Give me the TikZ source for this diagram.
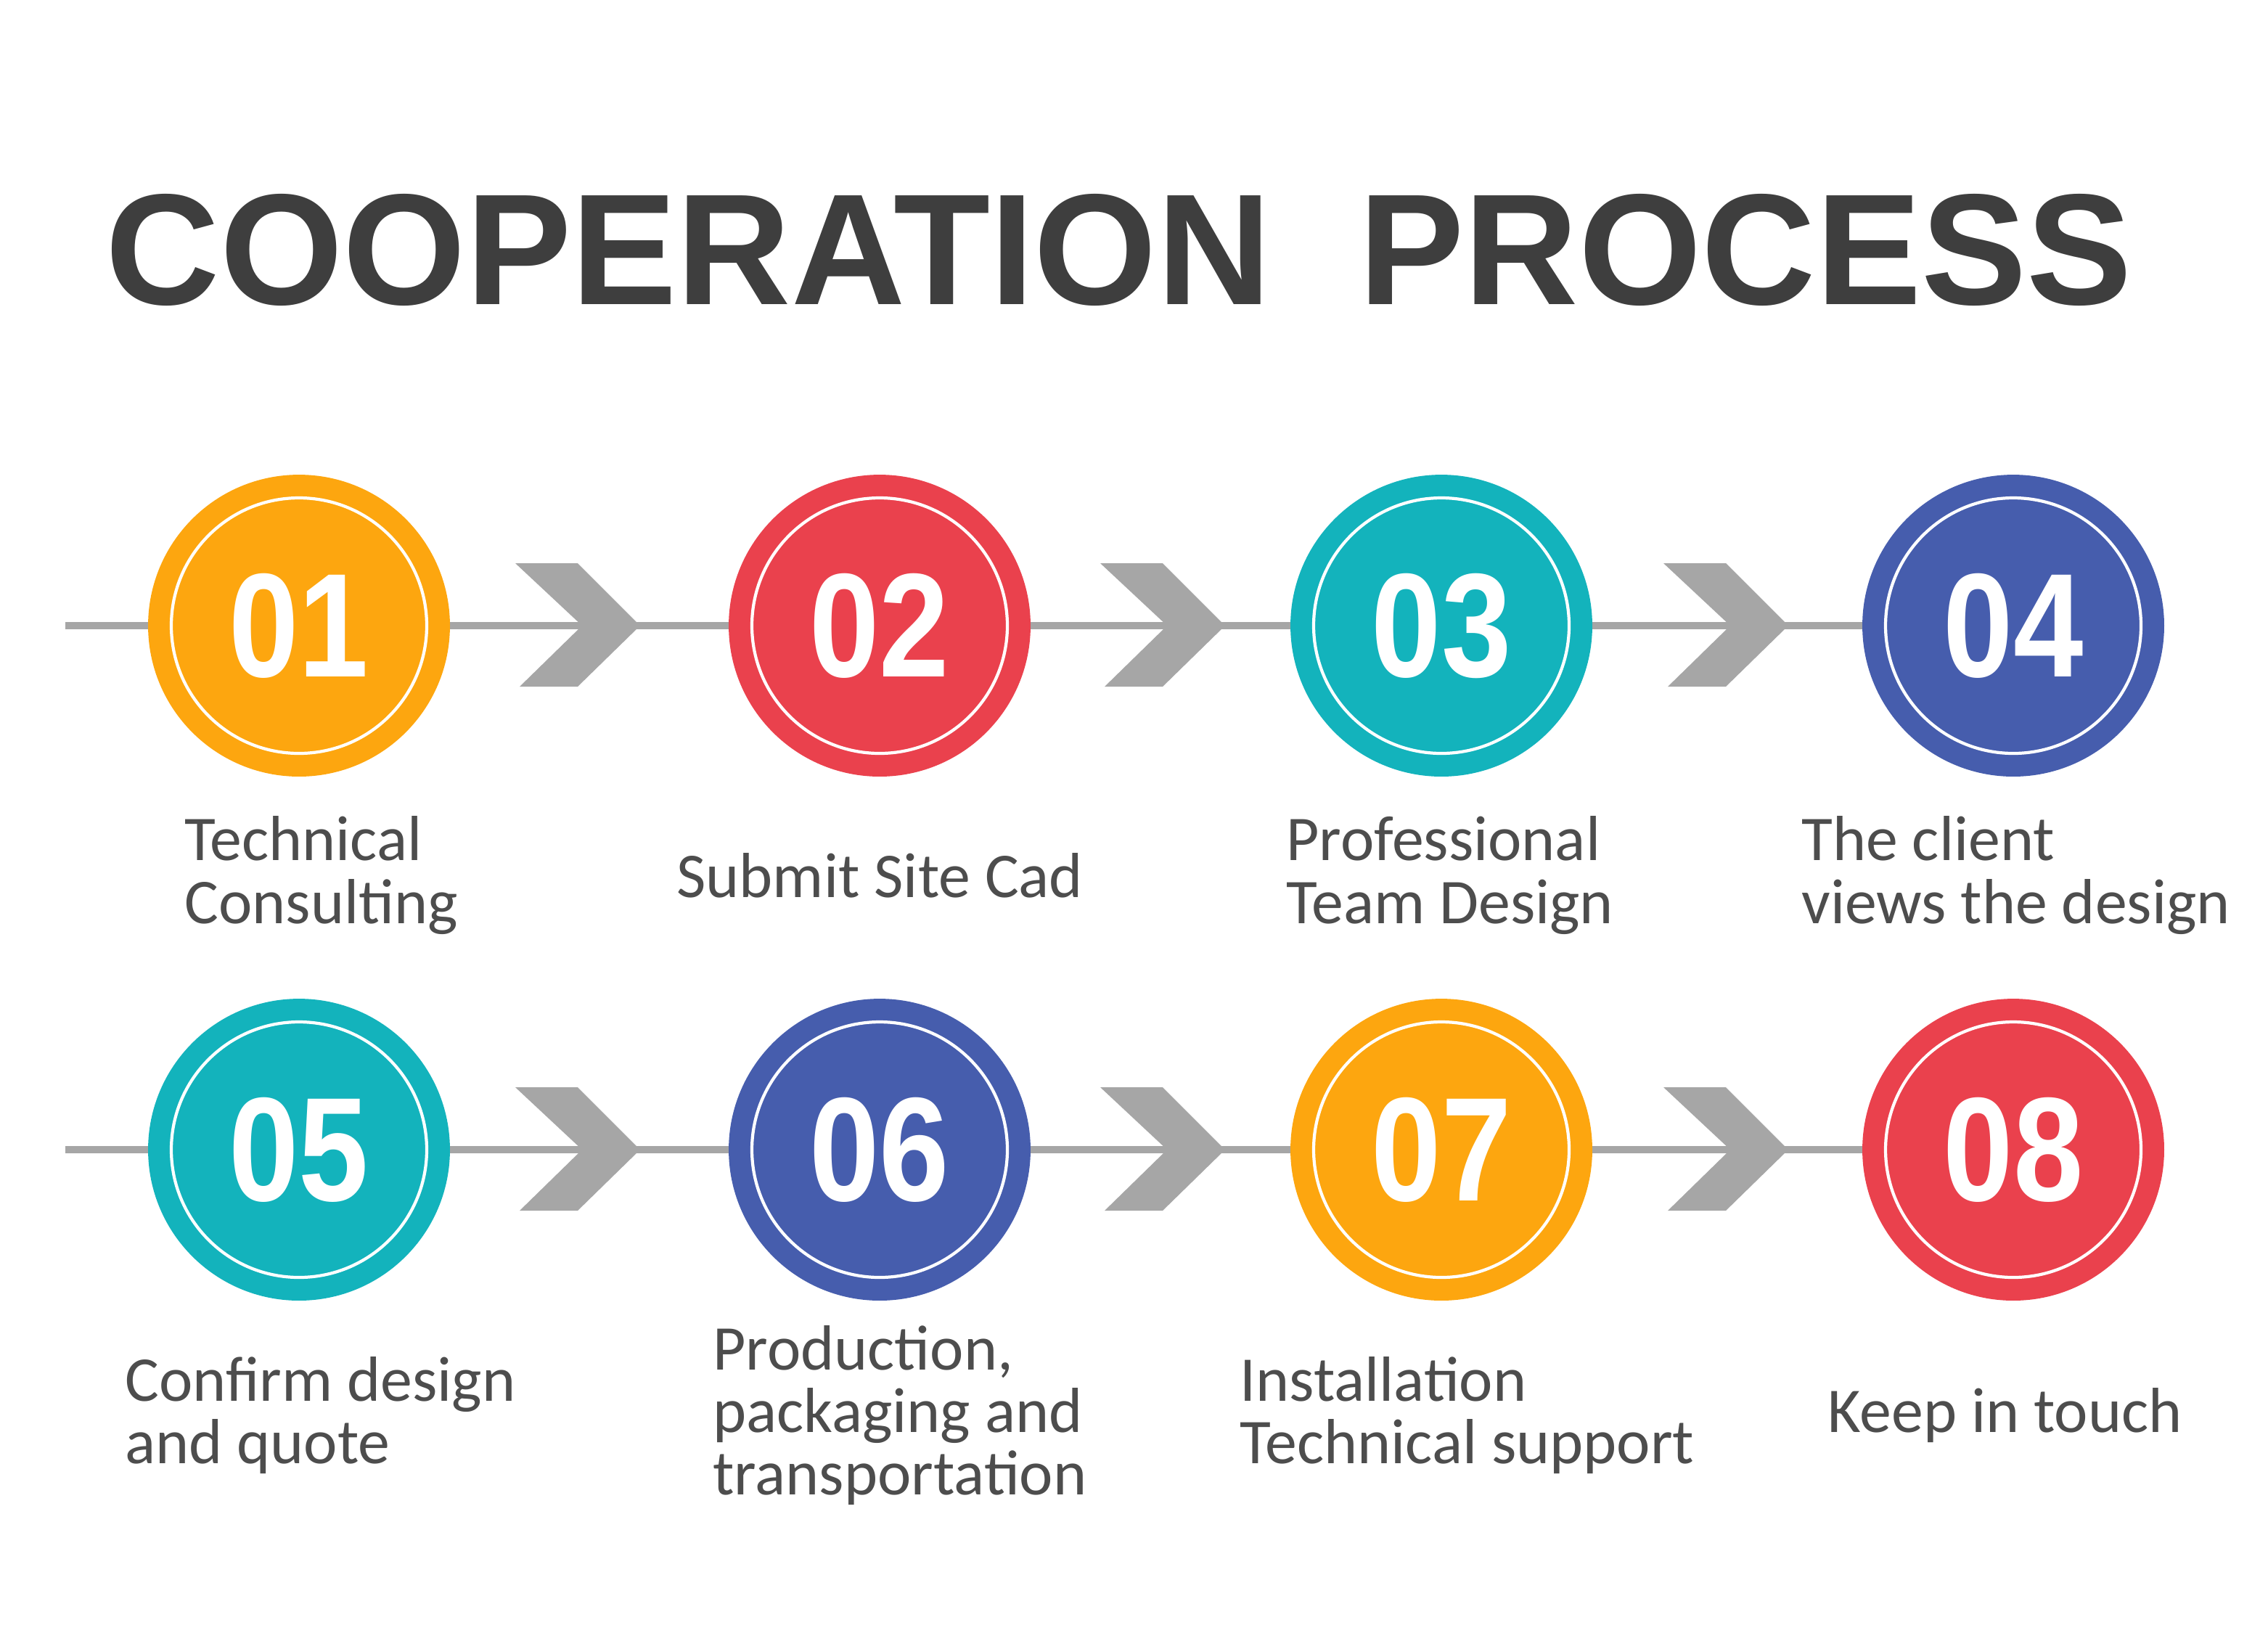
\documentclass[tikz,border=0pt]{standalone}
\usepackage{fontspec}
\setmainfont{Carlito}
\newfontfamily\titlefont{Liberation Sans}
\usetikzlibrary{positioning}
\definecolor{stepor}{HTML}{FDA60F}
\definecolor{stepre}{HTML}{EA414D}
\definecolor{steptl}{HTML}{13B3BC}
\definecolor{stepbl}{HTML}{465DAD}
\definecolor{linegr}{HTML}{A6A6A6}
\definecolor{textgr}{HTML}{4D4D4D}
\tikzset{
    stepdisc/.style={circle, minimum size=4.16cm, inner sep=0pt, text=white,
        font=\titlefont\bfseries\fontsize{58}{58}\selectfont},
    ring/.style={draw=white, line width=1.2pt},
    label/.style={anchor=west, align=left, text=textgr,
        font=\fontsize{25}{24.5}\selectfont},
    chev/.style={fill=linegr, draw=none},
}
\begin{document}
\begin{tikzpicture}[x=0.02cm,y=-0.02cm]
\useasboundingbox (0,0) rectangle (1562.5,1135.5);

\node at (771,172) (title) {\titlefont\bfseries\fontsize{62}{62}\selectfont\color{textgr!80!black}COOPERATION\ \ PROCESS};

% the two rows
\foreach \row/\yy in {0/431,1/792}{
  \coordinate (s\row) at (45,\yy);
  \coordinate (e\row) at (1387,\yy);
  \draw [linegr, line width=3pt] (s\row) -- (e\row);
  \foreach \xx in {355,758,1146}
    \fill [chev] (\xx,\yy-43) -- (\xx+43,\yy-43) -- (\xx+86,\yy) -- (\xx+43,\yy+42)
      -- (\xx+3,\yy+42) -- (\xx+46,\yy) -- cycle;
}

\foreach \n/\xx/\yy/\col in {01/206/431/stepor, 02/606/431/stepre, 03/993/431/steptl, 04/1387/431/stepbl,
    05/206/792/steptl, 06/606/792/stepbl, 07/993/792/stepor, 08/1387/792/stepre}{
  \node [stepdisc, fill=\col] at (\xx,\yy) (c\n) {\scalebox{0.85}[1]{\n}};
  \draw [ring] (c\n.center) circle (88);
}

\node [label] at (121,603) (t1) {Technical\\Consulting};
\node [label] at (460,603) (t2) {Submit Site Cad};
\node [label] at (880,603) (t3) {Professional\\Team Design};
\node [label] at (1235,603) (t4) {The client\\views the design};
\node [label] at (80,975) (t5) {Confirm design\\and quote};
\node [label] at (485,975) (t6) {Production,\\packaging and\\transportation};
\node [label] at (848,975) (t7) {Installation\\Technical support};
\node [label] at (1253,975) (t8) {Keep in touch};
\end{tikzpicture}
\end{document}
